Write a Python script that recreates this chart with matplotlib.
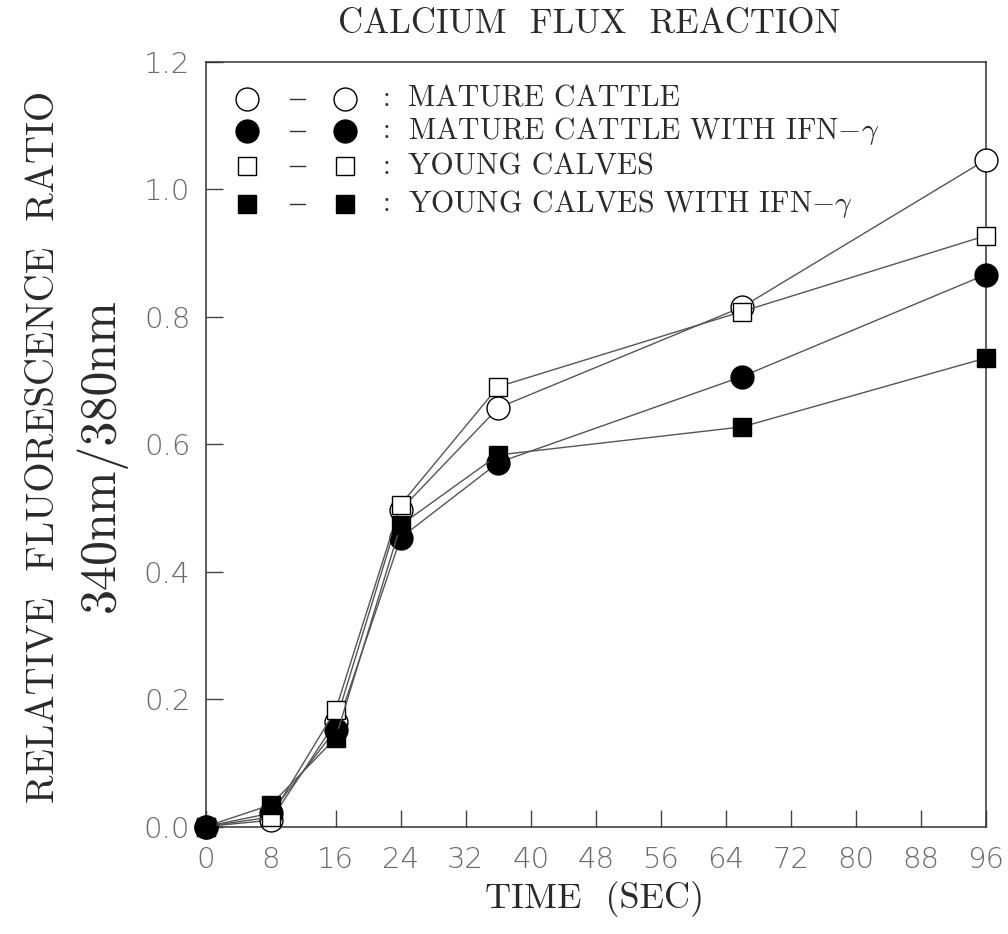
import matplotlib
matplotlib.use("Agg")
import matplotlib.pyplot as plt

plt.rcParams['mathtext.fontset'] = 'cm'

# Sampling times (seconds)
time_sec = [0, 8, 16, 24, 36, 66, 96]

# Relative fluorescence ratio 340nm/380nm
mature_cattle = [0.0, 0.010, 0.164, 0.497, 0.657, 0.815, 1.046]
mature_cattle_ifn = [0.0, 0.021, 0.152, 0.453, 0.571, 0.706, 0.866]
young_calves = [0.0, 0.015, 0.183, 0.505, 0.690, 0.808, 0.927]
young_calves_ifn = [0.0, 0.034, 0.139, 0.473, 0.583, 0.627, 0.735]

series_labels = [
    "MATURE CATTLE",
    "MATURE CATTLE WITH IFN$-\\gamma$",
    "YOUNG CALVES",
    "YOUNG CALVES WITH IFN$-\\gamma$",
]

x_ticks = list(range(0, 97, 8))
y_ticks = [0.0, 0.2, 0.4, 0.6, 0.8, 1.0, 1.2]

serif = "cmr10"
text_color = "#2a2a2a"
tick_font = dict(family="DejaVu Sans", weight="light", size=21, color="#6a6a6a")

fig = plt.figure(figsize=(10.08, 9.34), dpi=100)
ax = fig.add_axes([0.204, 0.115, 0.774, 0.819])

styles = [
    dict(marker="o", mfc="white", mec="black", ms=16.5),
    dict(marker="o", mfc="black", mec="black", ms=16.5),
    dict(marker="s", mfc="white", mec="black", ms=13),
    dict(marker="s", mfc="black", mec="black", ms=13),
]
all_series = [mature_cattle, mature_cattle_ifn, young_calves, young_calves_ifn]

for vals, st in zip(all_series, styles):
    ax.plot(time_sec, vals, color="#555555", lw=1.0, mew=1.0, clip_on=False,
            zorder=3, **st)

ax.set_xlim(0, 96)
ax.set_ylim(0, 1.2)
ax.set_xticks(x_ticks)
ax.set_yticks(y_ticks)
ax.set_xticklabels([str(v) for v in x_ticks], fontdict=tick_font)
ax.set_yticklabels([f"{v:.1f}" for v in y_ticks], fontdict=tick_font)
ax.tick_params(axis="both", direction="in", length=12, width=1.0,
               color="#444444", top=False, right=False)
ax.tick_params(axis="x", pad=14)
ax.tick_params(axis="y", pad=11)
for sp in ax.spines.values():
    sp.set_linewidth(1.1)
    sp.set_color("#333333")

# Key in the upper-left corner: marker - marker : label
row_y = [0.951, 0.909, 0.863, 0.814]
for yy, st, lab in zip(row_y, styles, series_labels):
    ax.plot([0.053], [yy], transform=ax.transAxes, ls="none", mew=1.0,
            clip_on=False, **st)
    ax.plot([0.179], [yy], transform=ax.transAxes, ls="none", mew=1.0,
            clip_on=False, **st)
    ax.plot([0.108, 0.128], [yy, yy], transform=ax.transAxes,
            color="#333333", lw=1.0)
    ax.text(0.232, yy, ":", transform=ax.transAxes, ha="center",
            va="center", fontsize=20, family=serif, color=text_color)
    ax.text(0.260, yy, lab, transform=ax.transAxes, ha="left",
            va="center", fontsize=21.5, family=serif, color=text_color)

fig.text(0.585, 0.974, "CALCIUM  FLUX  REACTION", ha="center", va="center",
         fontsize=25, family=serif, color=text_color)
fig.text(0.590, 0.037, "TIME  (SEC)", ha="center", va="center",
         fontsize=26, family=serif, color=text_color)
fig.text(0.044, 0.521, "RELATIVE  FLUORESCENCE  RATIO", ha="center",
         va="center", rotation=90, fontsize=28, family=serif, color=text_color)
fig.text(0.100, 0.513, "340nm/380nm", ha="center", va="center",
         rotation=90, fontsize=36, family=serif, color=text_color)

fig.savefig("out.png", dpi=100, facecolor="white")
